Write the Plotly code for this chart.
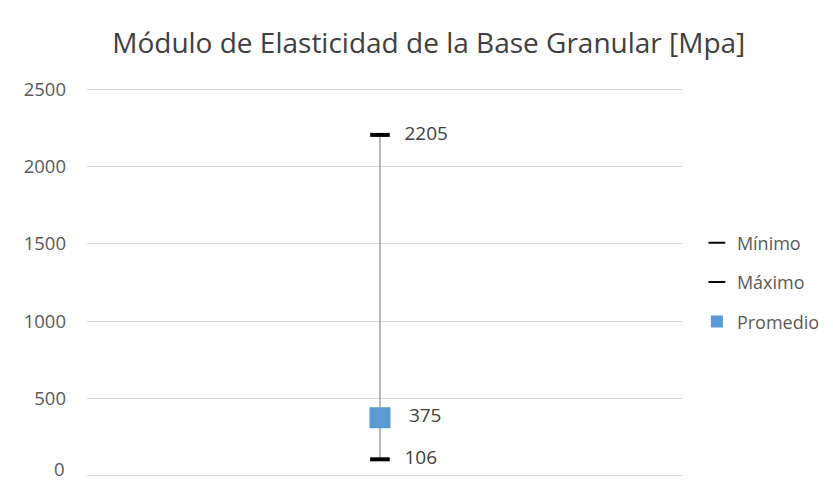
import plotly.graph_objects as go

categories = [0]
minimo = [106]
maximo = [2205]
promedio = [375]
y_ticks = [0, 500, 1000, 1500, 2000, 2500]

LBL = dict(size=19, color="#404040")
TICKFONT = dict(size=18.5, color="#595959")

fig = go.Figure()

# high-low line
fig.add_trace(go.Scatter(
    x=categories * 2, y=[minimo[0], maximo[0]], mode="lines",
    line=dict(color="#8c8c8c", width=1.2), showlegend=False, hoverinfo="skip"))

fig.add_trace(go.Scatter(
    x=categories, y=minimo, mode="markers+text", name="Mínimo", legendgroup="a",
    marker=dict(symbol="line-ew", size=14, line=dict(color="black", width=4)),
    text=["   " + str(v) for v in minimo], textposition="middle right",
    textfont=LBL))

fig.add_trace(go.Scatter(
    x=categories, y=maximo, mode="markers+text", name="Máximo", legendgroup="b",
    marker=dict(symbol="line-ew", size=14, line=dict(color="black", width=4)),
    text=["   " + str(v) for v in maximo], textposition="middle right",
    textfont=LBL))

fig.add_trace(go.Scatter(
    x=categories, y=promedio, mode="markers+text", name="Promedio", legendgroup="c",
    marker=dict(symbol="square", size=21, color="#5B9BD5"),
    text=["   " + str(v) for v in promedio], textposition="middle right",
    textfont=LBL))

# bottom tick label drawn as annotation, kept inside the figure edge
fig.add_annotation(x=-0.0353, xref="paper", y=-0.0102, yref="paper",
                   text=str(y_ticks[0]), showarrow=False, xanchor="right",
                   yanchor="bottom", borderpad=0, font=TICKFONT)

fig.update_layout(
    width=825, height=474,
    margin=dict(l=79, r=151, t=79, b=4),
    paper_bgcolor="white", plot_bgcolor="white",
    font=dict(family="Open Sans, Liberation Sans, sans-serif", color="#595959"),
    title=dict(text="Módulo de Elasticidad de la Base Granular [Mpa]",
               x=0.51, xanchor="center", y=0.926, yanchor="middle",
               font=dict(size=28, color="#404040")),
    xaxis=dict(visible=False, range=[-1, 1.031]),
    yaxis=dict(range=[-15, 2515], tickvals=y_ticks,
               ticktext=["" if v == 0 else str(v) for v in y_ticks],
               showgrid=True, gridcolor="#d9d9d9", gridwidth=1,
               zeroline=False, automargin=False,
               tickfont=TICKFONT, ticks="",
               ticklabelstandoff=20, showline=False),
    legend=dict(x=1.025, y=0.5, xanchor="left", yanchor="middle",
                font=dict(size=18, color="#595959"), tracegroupgap=13,
                itemsizing="constant", bgcolor="rgba(0,0,0,0)"),
)
fig.update_traces(cliponaxis=False)

fig.write_html("out.html")
